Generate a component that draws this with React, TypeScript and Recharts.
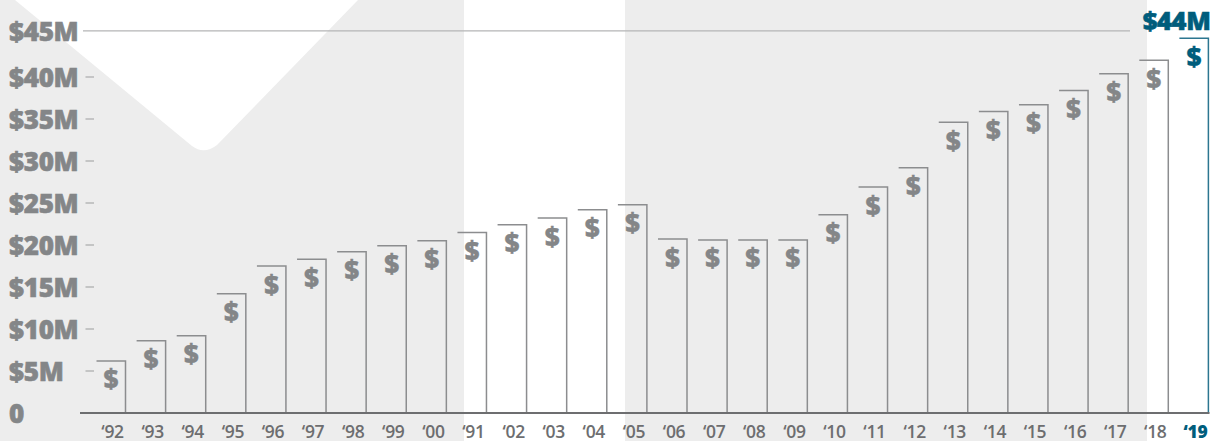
import { BarChart, Bar, XAxis, YAxis } from 'recharts';

const years = ['92', '93', '94', '95', '96', '97', '98', '99', '00', '91', '02', '03', '04', '05', '06', '07', '08', '09', '10', '11', '12', '13', '14', '15', '16', '17', '18', '19'];
const budget = [6.2, 8.6, 9.2, 14.2, 17.5, 18.3, 19.2, 19.9, 20.5, 21.5, 22.4, 23.2, 24.2, 24.8, 20.7, 20.6, 20.6, 20.6, 23.6, 26.9, 29.2, 34.6, 35.9, 36.7, 38.4, 40.4, 42, 44.6];
const yTicks = [0, 5, 10, 15, 20, 25, 30, 35, 40, 45.5];
const yLabels = ['0', '$5M', '$10M', '$15M', '$20M', '$25M', '$30M', '$35M', '$40M', '$45M'];
const lastLabel = '$44M';

const data = years.map((y, i) => ({ year: y, value: budget[i] }));

const FONT = '"Open Sans", sans-serif';
const GREY = '#8c8d8f';
const TEAL = '#005d7c';
const lastYear = years[years.length - 1];

function BudgetBar(props: any) {
  const { x, y, width, height, payload } = props;
  const isLast = payload.year === lastYear;
  const right = x + width;
  const ink = isLast ? TEAL : '#848688';
  return (
    <g>
      <path
        d={`M${x},${y}H${right}V${y + height}`}
        fill="none"
        stroke={isLast ? '#2c7690' : GREY}
        strokeWidth={1.5}
      />
      <text
        x={x + width / 2}
        y={y + 27.5}
        textAnchor="middle"
        fontFamily={FONT}
        fontWeight={800}
        fontSize={26}
        fill={ink}
        stroke={ink}
        strokeWidth={0.3}
      >
        $
      </text>
      {isLast && (
        <text x={right + 2} y={y - 8} textAnchor="end" fontFamily={FONT} fontWeight={800} fontSize={25.5} letterSpacing={-0.4} fill={TEAL} stroke={TEAL} strokeWidth={0.6}>
          {lastLabel}
        </text>
      )}
    </g>
  );
}

function YTick(props: any) {
  const { y, payload, index } = props;
  const top = payload.value === yTicks[yTicks.length - 1];
  return (
    <g>
      <text x={9} y={y + 10} textAnchor="start" fontFamily={FONT} fontWeight={800} fontSize={26} letterSpacing={-0.3} fill="#848688" stroke="#848688" strokeWidth={0.6}>
        {yLabels[index]}
      </text>
      {top && <line x1={83} x2={1130} y1={y} y2={y} stroke="#b4b5b6" strokeWidth={1.3} />}
      {!top && payload.value !== 0 && <line x1={85.5} x2={94} y1={y} y2={y} stroke="#a9aaab" strokeWidth={1.2} />}
    </g>
  );
}

function XTick(props: any) {
  const { x, y, payload } = props;
  const isLast = payload.value === lastYear;
  return (
    <text
      x={x + 2}
      y={y + 17}
      textAnchor="middle"
      fontFamily={FONT}
      fontWeight={isLast ? 800 : 600}
      fontSize={17.5}
      letterSpacing={-0.3}
      fill={isLast ? TEAL : '#6d6e70'}
    >
      {'\u2018' + payload.value}
    </text>
  );
}

export default function App() {
  return (
    <div style={{ position: 'absolute', left: 0, top: 0, width: 1221, height: 441, overflow: 'hidden', background: '#fff' }}>
      <svg width={1221} height={441} style={{ position: 'absolute', left: 0, top: 0 }}>
        <rect x={0} y={0} width={464} height={441} fill="#ededed" />
        <rect x={625} y={0} width={522} height={441} fill="#ededed" />
        <path d="M15,0 L192,146 Q204,155 217,145 L358,0 Z" fill="#fff" />
      </svg>
      <BarChart
        width={1221}
        height={441}
        data={data}
        margin={{ top: 30.8, right: 11.5, bottom: 0, left: 0 }}
        barSize={29}
        style={{ position: 'absolute', left: 0, top: 0 }}
      >
        <XAxis
          dataKey="year"
          interval={0}
          height={28}
          tick={<XTick />}
          tickLine={false}
          axisLine={{ stroke: '#6d6e70', strokeWidth: 2 }}
          padding={{ left: 10.5, right: -4 }}
        />
        <YAxis
          width={80}
          domain={[0, 45.5]}
          ticks={yTicks}
          interval={0}
          tick={<YTick />}
          tickLine={false}
          axisLine={false}
        />
        <Bar dataKey="value" isAnimationActive={false} shape={<BudgetBar />} />
      </BarChart>
    </div>
  );
}
